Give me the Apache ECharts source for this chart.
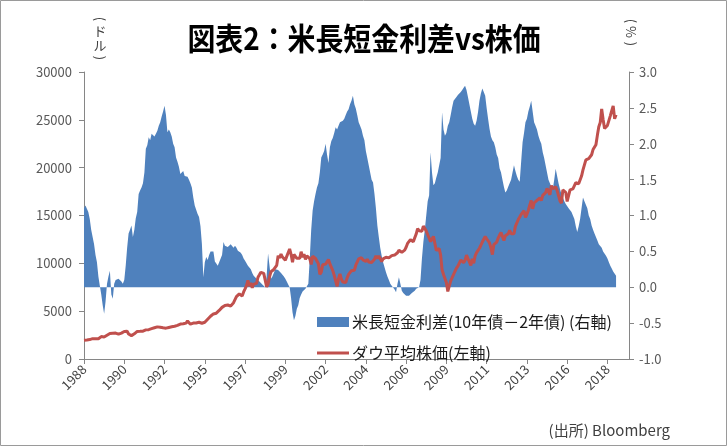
<!DOCTYPE html>
<html><head><meta charset="utf-8">
<script src="https://cdn.jsdelivr.net/npm/echarts@6/dist/echarts.min.js"></script>
<style>html,body{margin:0;padding:0;background:#fff}#c{width:728px;height:447px}</style>
</head><body><div id="c"></div>
<script>
// Monthly categories Jan 1988 .. Aug 2019 (axis extends past the last data point)
var startYear = 1988;
var monthCount = 380;
var categories = [];
for (var i = 0; i < monthCount; i++) {
  var y = startYear + Math.floor(i / 12), m = (i % 12) + 1;
  categories.push(y + '-' + (m < 10 ? '0' + m : m));
}
var leftTicks = [0, 5000, 10000, 15000, 20000, 25000, 30000];
var rightTicks = [-1.0, -0.5, 0.0, 0.5, 1.0, 1.5, 2.0, 2.5, 3.0];

// 10y-2y spread (%) monthly, Jan 1988 - Nov 2018
var spread = [
  1.10, 1.14, 1.16, 1.05, 0.95, 0.80, 0.70, 0.60, 0.45, 0.35, 0.15, 0.02,
  -0.10, -0.25, -0.37, -0.20, 0.05, 0.15, 0.23, -0.10, -0.16, 0.05, 0.10, 0.12,
  0.12, 0.10, 0.08, 0.05, 0.10, 0.30, 0.55, 0.75, 0.80, 0.86, 0.70, 0.80,
  0.96, 1.05, 1.30, 1.35, 1.39, 1.45, 1.60, 1.93, 1.98, 2.09, 2.05, 2.14,
  2.12, 2.10, 2.14, 2.18, 2.25, 2.30, 2.38, 2.45, 2.53, 2.40, 2.16, 2.20,
  2.16, 2.10, 2.00, 1.95, 1.81, 1.75, 1.68, 1.58, 1.60, 1.62, 1.55, 1.54,
  1.54, 1.50, 1.45, 1.39, 1.25, 1.14, 1.08, 1.02, 0.98, 0.85, 0.60, 0.14,
  0.35, 0.42, 0.38, 0.45, 0.50, 0.48, 0.50, 0.36, 0.33, 0.30, 0.35, 0.33,
  0.45, 0.63, 0.58, 0.60, 0.56, 0.58, 0.60, 0.58, 0.55, 0.58, 0.55, 0.51,
  0.50, 0.48, 0.45, 0.40, 0.37, 0.35, 0.30, 0.28, 0.25, 0.20, 0.16, 0.14,
  0.12, 0.10, 0.08, 0.06, 0.04, 0.02, 0.00, 0.15, 0.47, 0.30, 0.12, 0.15,
  0.20, 0.25, 0.26, 0.24, 0.22, 0.20, 0.20, 0.15, 0.12, 0.08, 0.04, 0.00,
  -0.15, -0.35, -0.46, -0.40, -0.30, -0.25, -0.15, -0.10, -0.06, -0.04, -0.02, 0.00,
  0.05, 0.40, 0.80, 1.07, 1.20, 1.30, 1.39, 1.45, 1.60, 1.81, 1.85, 1.90,
  2.00, 1.85, 1.73, 1.95, 2.04, 2.08, 2.15, 2.23, 2.20, 2.25, 2.30, 2.32,
  2.32, 2.35, 2.40, 2.45, 2.48, 2.55, 2.60, 2.67, 2.55, 2.49, 2.40, 2.30,
  2.25, 2.20, 2.11, 2.05, 1.90, 1.80, 1.70, 1.60, 1.50, 1.46, 1.30, 1.10,
  0.86, 0.70, 0.55, 0.44, 0.35, 0.28, 0.21, 0.15, 0.10, 0.05, 0.02, 0.00,
  -0.03, -0.07, 0.05, 0.14, 0.05, -0.05, -0.08, -0.10, -0.12, -0.14, -0.12, -0.10,
  -0.08, -0.06, -0.05, -0.02, 0.00, 0.00, 0.10, 0.40, 0.63, 0.80, 1.00, 1.20,
  1.28, 1.88, 1.60, 1.42, 1.45, 1.53, 1.60, 1.70, 1.80, 2.44, 2.20, 2.11,
  2.15, 2.25, 2.30, 2.40, 2.51, 2.60, 2.62, 2.65, 2.68, 2.70, 2.72, 2.75,
  2.78, 2.81, 2.75, 2.65, 2.55, 2.45, 2.35, 2.28, 2.25, 2.32, 2.44, 2.60,
  2.70, 2.77, 2.72, 2.67, 2.50, 2.35, 2.21, 2.10, 2.05, 2.02, 1.95, 1.85,
  1.80, 1.66, 1.60, 1.50, 1.40, 1.32, 1.35, 1.40, 1.42, 1.50, 1.60, 1.70,
  1.62, 1.55, 1.50, 1.47, 1.75, 2.02, 2.15, 2.30, 2.35, 2.45, 2.52, 2.60,
  2.45, 2.30, 2.25, 2.20, 2.11, 2.05, 2.00, 1.88, 1.80, 1.70, 1.60, 1.50,
  1.45, 1.40, 1.37, 1.50, 1.65, 1.55, 1.45, 1.37, 1.30, 1.25, 1.20, 1.16,
  1.18, 1.10, 1.08, 1.05, 1.00, 0.95, 0.85, 0.77, 0.85, 0.95, 1.10, 1.25,
  1.20, 1.15, 1.10, 1.00, 0.95, 0.86, 0.80, 0.75, 0.70, 0.65, 0.60, 0.58,
  0.55, 0.50, 0.48, 0.44, 0.40, 0.35, 0.30, 0.26, 0.22, 0.20, 0.16
];

// Dow Jones Industrial Average (USD) monthly, Jan 1988 - Nov 2018
var dow = [
  1958, 2071, 1988, 2032, 2031, 2142, 2129, 2032, 2113, 2149, 2114, 2169,
  2342, 2258, 2294, 2419, 2480, 2440, 2661, 2737, 2693, 2645, 2706, 2753,
  2591, 2627, 2707, 2657, 2877, 2881, 2905, 2614, 2453, 2442, 2560, 2634,
  2737, 2882, 2914, 2888, 3028, 2907, 3025, 3044, 3017, 3069, 2895, 3169,
  3224, 3267, 3236, 3359, 3397, 3319, 3394, 3257, 3272, 3226, 3305, 3301,
  3310, 3371, 3435, 3428, 3527, 3516, 3540, 3651, 3555, 3681, 3684, 3754,
  3978, 3832, 3636, 3682, 3758, 3625, 3765, 3913, 3843, 3908, 3739, 3834,
  3843, 4011, 4158, 4321, 4465, 4556, 4709, 4647, 4789, 4756, 5075, 5117,
  5395, 5486, 5587, 5569, 5643, 5655, 5529, 5616, 5882, 6029, 6522, 6448,
  6813, 6878, 6584, 7009, 7331, 7673, 8223, 7622, 7945, 7442, 7823, 7908,
  7907, 8546, 8800, 9063, 8900, 8952, 8883, 7539, 7843, 8592, 9117, 9181,
  9359, 9307, 9786, 10789, 10560, 10971, 10655, 10829, 10337, 10730, 10878, 11497,
  10941, 10128, 10922, 10734, 10522, 10448, 10522, 11215, 10651, 10971, 10415, 10788,
  10887, 10495, 9879, 10735, 10912, 10502, 10523, 9950, 8848, 9075, 9852, 10022,
  9920, 10106, 10404, 9946, 9925, 9243, 8737, 8664, 7592, 8397, 8896, 8342,
  8054, 7891, 7992, 8480, 8850, 8985, 9234, 9416, 9275, 9801, 9782, 10454,
  10488, 10584, 10358, 10226, 10188, 10435, 10140, 10174, 10080, 10027, 10428, 10783,
  10490, 10766, 10504, 10193, 10467, 10275, 10641, 10482, 10569, 10440, 10806, 10718,
  10865, 10993, 11109, 11367, 11168, 11150, 11186, 11381, 11679, 12081, 12222, 12463,
  12622, 12269, 12354, 13063, 13628, 13409, 13212, 13358, 13896, 13930, 13372, 13265,
  12650, 12266, 12263, 12820, 12638, 11350, 11378, 11544, 10851, 9325, 8829, 8776,
  8001, 7063, 7609, 8168, 8500, 8447, 9172, 9496, 9712, 9713, 10345, 10428,
  10067, 10325, 10857, 11009, 10137, 9774, 10466, 10015, 10788, 11118, 11006, 11578,
  11892, 12226, 12320, 12811, 12570, 12414, 12143, 11614, 10913, 11955, 12046, 12218,
  12633, 12952, 13212, 13214, 12393, 12880, 13009, 13091, 13437, 13096, 13026, 13104,
  13861, 14054, 14579, 14840, 15116, 14910, 15500, 14810, 15130, 15546, 16086, 16577,
  15699, 16322, 16458, 16581, 16717, 16827, 16563, 17098, 17043, 17391, 17828, 17823,
  17165, 18133, 17776, 17841, 18011, 17620, 17690, 16528, 16285, 17664, 17720, 17425,
  16466, 16517, 17685, 17774, 17787, 17930, 18432, 18401, 18308, 18142, 19124, 19763,
  19864, 20812, 20663, 20941, 21009, 21350, 21891, 21948, 22405, 23377, 24272, 24719,
  26149, 25029, 24103, 24163, 24416, 24271, 25415, 25965, 26458, 25116, 25538
];

var titleText = '図表2：米長短金利差vs株価';
var spreadName = '米長短金利差(10年債－2年債) (右軸)';
var dowName = 'ダウ平均株価(左軸)';
var FONT = '"Noto Sans CJK JP", "Noto Sans", sans-serif';
var BLUE = '#4F81BD', RED = '#C0504D';

function vtext(x, y, s, rot) {
  return {type: 'text', x: x, y: y, rotation: rot || 0, silent: true,
    style: {text: s, font: '13px ' + FONT, fill: '#404040', align: 'center', verticalAlign: 'middle'}};
}

var chart = echarts.init(document.getElementById('c'), null, {renderer: 'canvas'});
chart.setOption({
  backgroundColor: '#fff',
  animation: false,
  textStyle: {fontFamily: FONT},
  graphic: [
    {type: 'rect', shape: {x: 0.5, y: 0.5, width: 726, height: 445}, style: {fill: 'none', stroke: '#9a9a9a', lineWidth: 1}, silent: true},
    {type: 'text', x: 364, y: 38, scaleX: 0.9, silent: true,
      style: {text: titleText, font: 'bold 31px ' + FONT, fill: '#000', align: 'center', verticalAlign: 'middle'}},
    vtext(100, 19, '(', -Math.PI / 2),
    vtext(100, 31, 'ド'),
    vtext(100, 45, 'ル'),
    vtext(100, 58, ')', -Math.PI / 2),
    vtext(631, 21, '(', -Math.PI / 2),
    vtext(631, 32, '%', -Math.PI / 2),
    vtext(631, 44, ')', -Math.PI / 2),
    {type: 'text', right: 58, top: 423, silent: true, style: {text: '(出所) Bloomberg', font: '15px ' + FONT, fill: '#404040'}}
  ],
  legend: [
    {left: 312, top: 309, itemWidth: 32, itemHeight: 10, itemGap: 0,
      textStyle: {fontSize: 16, color: '#1a1a1a', fontFamily: FONT, padding: [0, 0, 0, -2]},
      data: [{name: spreadName, icon: 'rect'}]},
    {left: 312, top: 340, itemWidth: 32, itemHeight: 3, itemGap: 0,
      textStyle: {fontSize: 16, color: '#1a1a1a', fontFamily: FONT, padding: [0, 0, 0, -2]},
      data: [{name: dowName, icon: 'rect'}]}
  ],
  grid: {left: 84, right: 99, top: 72, bottom: 88, containLabel: false},
  xAxis: {
    type: 'category', data: categories, boundaryGap: false,
    axisLine: {lineStyle: {color: '#868686', width: 1}},
    axisTick: {interval: 27, length: 5, lineStyle: {color: '#868686'}},
    axisLabel: {interval: 27, rotate: 45, color: '#404040', fontSize: 13, margin: 8,
      formatter: function (v) { return v.slice(0, 4); }},
    splitLine: {show: false}
  },
  yAxis: [
    {type: 'value', min: leftTicks[0], max: leftTicks[leftTicks.length - 1], interval: 5000,
      axisLine: {show: true, lineStyle: {color: '#868686'}},
      axisTick: {show: true, length: 5, lineStyle: {color: '#868686'}},
      axisLabel: {color: '#595959', fontSize: 13, margin: 12, formatter: function (v) { return String(v); }},
      splitLine: {show: false}},
    {type: 'value', min: rightTicks[0], max: rightTicks[rightTicks.length - 1], interval: 0.5,
      position: 'right',
      axisLine: {show: true, lineStyle: {color: '#868686'}},
      axisTick: {show: true, length: 5, lineStyle: {color: '#868686'}},
      axisLabel: {color: '#595959', fontSize: 13, margin: 10, formatter: function (v) { return v.toFixed(1); }},
      splitLine: {show: false}}
  ],
  series: [
    {name: spreadName, type: 'line', yAxisIndex: 1, data: spread, symbol: 'none',
      lineStyle: {width: 0, color: BLUE}, itemStyle: {color: BLUE},
      areaStyle: {color: BLUE, opacity: 1, origin: 0}, z: 2},
    {name: dowName, type: 'line', yAxisIndex: 0, data: dow, symbol: 'none',
      lineStyle: {width: 3, color: RED}, itemStyle: {color: RED}, z: 3}
  ]
});
</script></body></html>
